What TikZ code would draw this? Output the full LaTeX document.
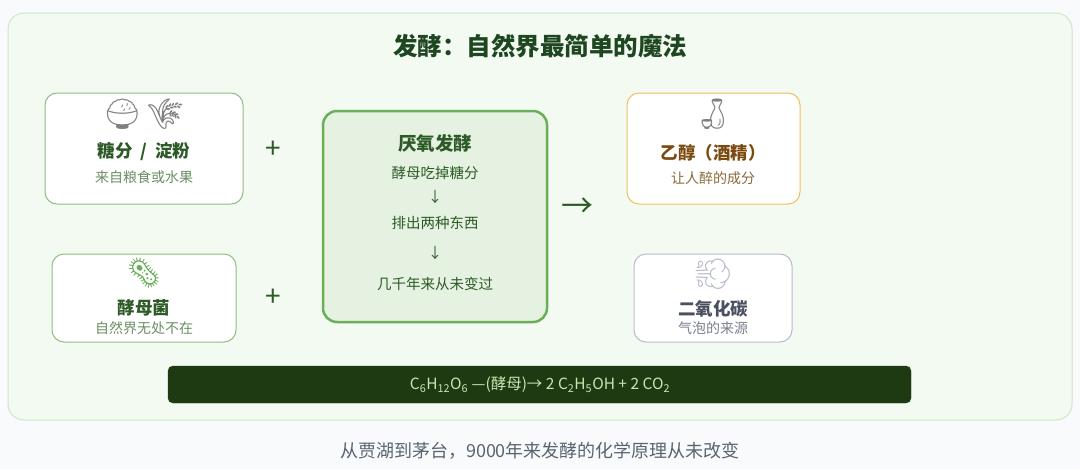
\documentclass[tikz,border=0pt]{standalone}
\usepackage{fontspec}
\setmainfont{Noto Sans CJK SC}
\newfontfamily\emo{Noto Emoji}
\usetikzlibrary{positioning}
\definecolor{bgc}{HTML}{F8FAFB}
\definecolor{panel}{HTML}{F3FAF1}
\definecolor{panelb}{HTML}{CFE6CA}
\definecolor{dg}{HTML}{1E4620}
\definecolor{tg}{HTML}{2D5A27}
\definecolor{sg}{HTML}{6B8F63}
\definecolor{gb}{HTML}{8CC07F}
\definecolor{cf}{HTML}{E6F2E1}
\definecolor{cb}{HTML}{6AAE5A}
\definecolor{ob}{HTML}{F0C060}
\definecolor{brn}{HTML}{7A4A10}
\definecolor{brs}{HTML}{8A6A3A}
\definecolor{gyb}{HTML}{B8BCCC}
\definecolor{gyt}{HTML}{4A5060}
\definecolor{gys}{HTML}{7A808C}
\definecolor{bar}{HTML}{1E3A12}
\definecolor{bart}{HTML}{C8E6B0}
\definecolor{foot}{HTML}{5A6470}
\tikzset{
 card/.style={draw=gb,line width=1pt,fill=white,rounded corners=12pt},
 ttl/.style={font=\bfseries\fontsize{17.5}{20}\selectfont,text=tg},
 sub/.style={font=\fontsize{14}{16}\selectfont,text=sg},
 emj/.style={font=\emo\fontsize{30}{32}\selectfont},
 plus/.style={font=\fontsize{28}{30}\selectfont,text=tg},
 ln/.style={font=\fontsize{14.5}{17}\selectfont,text=tg}
}
\begin{document}
\begin{tikzpicture}[x=1pt,y=-1pt]
\fill[bgc] (0,0) rectangle (1080,469);
\useasboundingbox (0,0) rectangle (1080,469);
\draw[panelb,fill=panel,line width=1pt,rounded corners=16pt] (8,13) rectangle (1072,420);
\node[font=\bfseries\fontsize{24.5}{28}\selectfont,text=dg] (title) at (540,46) {发酵：自然界最简单的魔法};
% box1
\draw[card] (45,93) rectangle (243,204);
\node[emj,text=gray] (e1) at (144,114) {🍚\,🌾};
\node[ttl] (t1) at (144,152) {糖分 ~/~ 淀粉};
\node[sub] (s1) at (144,177) {来自粮食或水果};
% box2
\draw[card] (52,254) rectangle (236,342);
\node[emj,text=cb] (e2) at (144,273) {🦠};
\node[ttl] (t2) at (144,308) {酵母菌};
\node[sub] (s2) at (144,328) {自然界无处不在};
\node[plus] (p1) at (273,150) {+};
\node[plus] (p2) at (273,298) {+};
% center
\draw[draw=cb,fill=cf,line width=2.5pt,rounded corners=14pt] (323,111) rectangle (547,322);
\node[ttl,font=\bfseries\fontsize{18.5}{21}\selectfont] (ct) at (435,143) {厌氧发酵};
\node[ln] (c1) at (435,173) {酵母吃掉糖分};
\node[ln] (a1) at (435,197) {↓};
\node[ln] (c2) at (435,223) {排出两种东西};
\node[ln] (a2) at (435,253) {↓};
\node[ln] (c3) at (435,284) {几千年来从未变过};
\node[font=\fontsize{32}{34}\selectfont,text=tg] (arr) at (577,208) {→};
% ethanol
\draw[draw=ob,fill=white,line width=1pt,rounded corners=12pt] (627,93) rectangle (800,204);
\node[emj,text=gray] (e3) at (713,114) {🍶};
\node[ttl,text=brn] (t3) at (713,153) {乙醇（酒精）};
\node[sub,text=brs] (s3) at (713,178) {让人醉的成分};
% co2
\draw[draw=gyb,fill=white,line width=1pt,rounded corners=12pt] (634,254) rectangle (792,342);
\node[emj,text=gyb] (e4) at (713,274) {💨};
\node[ttl,text=gyt] (t4) at (713,309) {二氧化碳};
\node[sub,text=gys] (s4) at (713,328) {气泡的来源};
% bar
\draw[fill=bar,draw=bar,rounded corners=5pt] (168,366) rectangle (911,403);
\node[text=bart,font=\fontsize{15.5}{18}\selectfont] (eq) at (540,385) {C\textsubscript{6}H\textsubscript{12}O\textsubscript{6} —(酵母)→ 2 C\textsubscript{2}H\textsubscript{5}OH + 2 CO\textsubscript{2}};
\node[text=foot,font=\fontsize{18}{21}\selectfont] (ft) at (540,451) {从贾湖到茅台，9000年来发酵的化学原理从未改变};
\end{tikzpicture}
\end{document}
